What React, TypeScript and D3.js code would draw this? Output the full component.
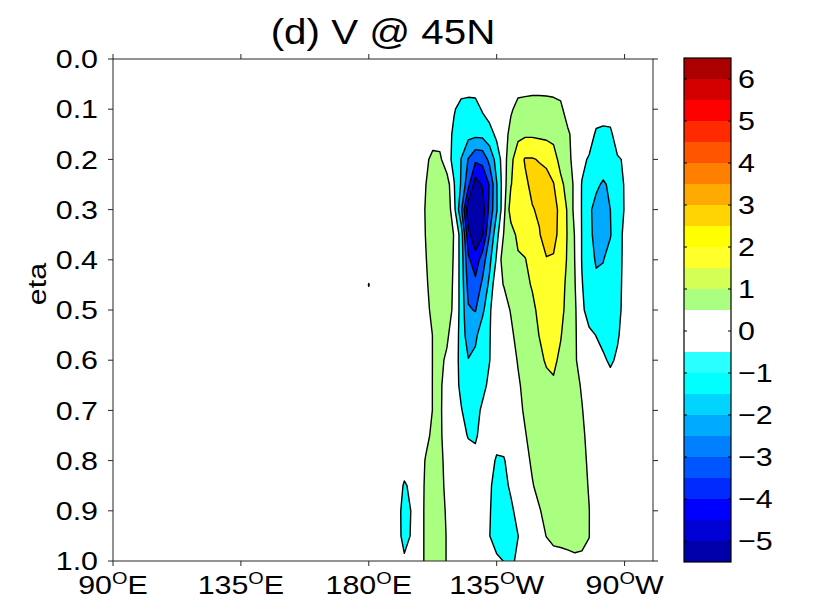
import React from "react";
import * as d3 from "d3";

// ---------- data ----------
const titleText = "(d) V @ 45N";
const yAxisLabel = "eta";
const etaTicks = [0, 0.1, 0.2, 0.3, 0.4, 0.5, 0.6, 0.7, 0.8, 0.9, 1.0];
const lonTicks = [90, 135, 180, 225, 270];
const lonTickNumbers = ["90", "135", "180", "135", "90"];
const lonTickHemis = ["E", "E", "E", "W", "W"];
const contourLevels = [-5.5, -4.5, -3.5, -2.5, -1.5, -0.5, 0.5, 1.5, 2.5, 3.5, 4.5, 5.5];
const colorbarMin = -5.5;
const colorbarStep = 0.5;
// bottom (-5.5..-5.0) to top (6.0..6.5)
const colorbarColors = [
  "#0000aa", "#0000d4", "#0000ff", "#002aff", "#0055ff", "#0080ff",
  "#00aaff", "#00d4ff", "#00ffff", "#2affff", "#ffffff", "#ffffff",
  "#aaff80", "#d4ff55", "#ffff2a", "#ffff00", "#ffd400", "#ffaa00",
  "#ff8000", "#ff5500", "#ff2a00", "#ff0000", "#d40000", "#aa0000",
];
const colorbarTicks = [-5, -4, -3, -2, -1, 0, 1, 2, 3, 4, 5, 6];

// model grid: longitudes 90E..280E every 2.5 deg; eta 0..1 every 0.05
const gridLonStart = 90;
const gridLonStep = 2.5;
const gridEtaStep = 0.05;
// columns 90E..177.5E hold no signal (all 0)
const quietColumns = 36;
// V values (m/s) for longitudes 180E, 182.5E, ..., 280E (41 columns), one row per eta level
const vAtEta = [
  /*0.00*/[0,0,0,0,0,0,0,0,0,0,0,0,0,0,0,0,0,0,0,0,0,0,0,0,0,0,0,0,0,0,0,0,0,0,0,0,0,0,0,0,0],
  /*0.05*/[0,0,0,0,0,0,0,0,0,0,0,0,0,0,0,0,0,0,0,0,0,0,0,0,0,0,0,0,0,0,0,0,0,0,0,0,0,0,0,0,0],
  /*0.10*/[0,0,0,0,0,0,0,0,0,0,0,0,-0.41,-0.85,-0.95,-0.9,-0.39,0,0,0,0.33,0.9,1.0,1.1,1.1,1.05,0.95,0.75,-0.03,0,0,0,0,0,0,0,0,0,0,0,0],
  /*0.15*/[0,0,0,0,0,0,0,0,0,0.05,0.05,0,-0.74,-1.05,-1.2,-1.25,-1.2,-0.9,-0.26,-0.15,0.95,1.25,1.35,1.35,1.3,1.25,1.15,0.95,0.7,0.05,0,-0.03,-0.65,-0.75,-0.7,0,0,0,0,0,0],
  /*0.20*/[0,0,0,0,0,0,0,0,0.3,0.75,0.7,-0.13,-0.77,-1.52,-2.55,-3.3,-3.2,-2.2,-1.13,0.05,1.24,2.1,2.57,2.57,2.44,2.3,2.0,1.09,0.75,0.19,-0.29,-0.6,-0.8,-0.85,-0.8,-0.6,-0.41,0,0,0,0],
  /*0.25*/[0,0,0,0,0,0,0,0.1,0.48,0.9,1.0,1.0,-0.45,-1.6,-3.2,-5.0,-4.4,-3.43,-1.55,0.05,1.45,2.04,2.35,2.68,2.9,2.85,2.54,1.8,1.05,0.3,-0.55,-0.9,-1.3,-1.65,-1.3,-0.85,-0.45,0,0,0,0],
  /*0.30*/[0,0,0,0,0,0,0,0.1,0.55,0.95,1.1,1.2,-0.2,-2.3,-5.2,-5.4,-5.0,-3.2,-1.6,0.2,1.98,2.2,2.35,2.45,2.61,2.9,2.8,2.26,1.37,0.18,-0.55,-1.3,-1.85,-2.0,-1.5,-1.0,-0.45,0,0,0,0],
  /*0.35*/[0,0,0,0,0,0,0,0.05,0.52,0.9,1.1,1.15,0.45,-0.93,-4.2,-5.2,-4.6,-2.5,-0.8,0.55,1.05,1.75,2.0,2.2,2.45,2.85,2.8,2.175,1.42,0.44,-0.55,-1.25,-1.8,-1.95,-1.55,-0.9,-0.3,0,0,0,0],
  /*0.40*/[0,0,0,0,0,0,0,0.05,0.45,0.9,1.05,1.1,0.4,-0.9,-3.3,-4.1,-3.0,-1.75,-0.35,1.07,1.2,1.35,1.45,1.9,2.25,2.45,2.4,2.05,1.38,0.48,-0.55,-1.1,-1.6,-1.52,-1.2,-0.85,-0.3,0,0,0,0],
  /*0.45*/[0.53,0,0,0,0,0,0,0.05,0.35,0.85,1.0,1.0,0.35,-0.88,-2.82,-3.2,-2.31,-1.26,0.32,0.52,0.95,1.15,1.35,1.55,1.9,2.1,2.1,1.95,1.2,0.55,-0.45,-1.0,-1.3,-1.35,-1.2,-0.9,-0.2,0,0,0,0],
  /*0.50*/[0,0,0,0,0,0,0,0,0.2,0.75,0.95,0.95,0.3,-0.86,-2.4,-2.55,-1.75,-0.6,0,0.2,0.55,0.9,1.1,1.35,1.65,1.9,2.0,1.8,1.15,0.65,-0.3,-0.92,-1.2,-1.3,-1.2,-0.85,-0.15,0,0,0,0],
  /*0.55*/[0,0,0,0,0,0,0,0,0.1,0.52,0.8,0.65,0,-0.8,-2.1,-1.75,-0.83,-0.55,0,0.1,0.35,0.75,1.0,1.2,1.52,1.75,1.85,1.55,1.1,0.65,-0.1,-0.3,-0.52,-0.9,-1.0,-0.65,0,0,0,0,0],
  /*0.60*/[0,0,0,0,0,0,0,0,0.1,0.52,0.7,0.35,-0.1,-0.78,-1.45,-1.2,-0.85,-0.52,0,0.05,0.2,0.55,0.85,1.05,1.3,1.6,1.65,1.35,1.0,0.65,0,-0.1,-0.2,-0.3,-0.7,-0.3,0,0,0,0,0],
  /*0.65*/[0,0,0,0,0,0,0,0,0.15,0.52,0.62,0.2,-0.15,-0.68,-1.05,-1.0,-0.75,-0.3,0,0,0.1,0.4,0.7,0.95,1.1,1.25,1.4,1.3,1.05,0.8,0.4,0.05,0,0,0,0,0,0,0,0,0],
  /*0.70*/[0,0,0,0,0,0,0,0,0.15,0.52,0.6,0.2,-0.1,-0.45,-0.85,-0.8,-0.35,0,0,0,0.1,0.3,0.6,0.85,1.0,1.1,1.15,1.1,1.0,0.85,0.55,0.1,0,0,0,0,0,0,0,0,0],
  /*0.75*/[0,0,0,0,0,0,0,0,0.3,0.65,0.62,0.2,0,-0.2,-0.56,-0.62,-0.2,0,0,0.05,0.15,0.3,0.45,0.75,0.95,1.05,1.1,1.1,1.05,0.95,0.7,0.2,0,0,0,0,0,0,0,0,0],
  /*0.80*/[0,0,0,0,0,0,0,0.1,0.55,0.75,0.7,0.25,0,0,-0.1,-0.25,-0.1,-0.05,-0.65,-0.6,0,0.1,0.3,0.6,0.8,0.95,1.05,1.05,1.0,0.9,0.75,0.35,0,0,0,0,0,0,0,0,0],
  /*0.85*/[0,0,0,0,0,-0.62,-0.3,0.15,0.6,0.8,0.75,0.3,0,0,0,0,0,-0.35,-0.9,-0.85,-0.3,0,0.15,0.45,0.7,0.85,0.95,1.0,1.0,0.9,0.75,0.45,0,0,0,0,0,0,0,0,0],
  /*0.90*/[0,0,0,0,0,-1.0,-0.45,0.15,0.62,0.85,0.8,0.4,0,0,0,0,0,-0.42,-1.0,-1.1,-0.75,-0.1,0,0.15,0.45,0.7,0.85,0.95,0.95,0.9,0.75,0.52,0.05,0,0,0,0,0,0,0,0],
  /*0.95*/[0,0,0,0,0,-0.95,-0.4,0.15,0.62,0.85,0.85,0.45,0,0,0,0,0,-0.48,-1.0,-1.1,-0.95,-0.52,-0.1,0.05,0.2,0.52,0.7,0.8,0.85,0.85,0.75,0.52,0,0,0,0,0,0,0,0,0],
  /*1.00*/[0,0,0,0,0,-0.3,0,0.15,0.62,0.85,0.85,0.45,0,0,0,0,0,0,-0.3,-0.52,-0.7,-0.3,0,0,0,0.05,0.2,0.15,0.22,0.33,0.33,0.3,0,0,0,0,0,0,0,0,0],
];

// ---------- layout ----------
const W = 831;
const H = 609;
const plot = { left: 113, right: 653, top: 59, bottom: 561 };
const cbar = { left: 684, right: 731, top: 58, bottom: 562 };
const FONT = "'Liberation Sans', Arial, Helvetica, sans-serif";
const SX = 1.17; // horizontal stretch of the reference's lettering

export default function App() {
  const x = d3.scaleLinear().domain([90, 280]).range([plot.left, plot.right]);
  const y = d3.scaleLinear().domain([0, 1]).range([plot.top, plot.bottom]);

  const nx = quietColumns + vAtEta[0].length;
  const ny = vAtEta.length;
  const values: number[] = [];
  for (let j = 0; j < ny; j++) {
    for (let i = 0; i < nx; i++) {
      values.push(i < quietColumns ? 0 : vAtEta[j][i - quietColumns]);
    }
  }
  const contours = d3.contours().size([nx, ny]).thresholds(contourLevels)(values);

  const proj = d3.geoTransform({
    point(this: any, gx: number, gy: number) {
      this.stream.point(
        x(gridLonStart + (gx - 0.5) * gridLonStep),
        y((gy - 0.5) * gridEtaStep)
      );
    },
  });
  const path = d3.geoPath(proj);

  const colorFor = (v: number) => {
    const idx = Math.floor((v - colorbarMin) / colorbarStep + 1e-6);
    return colorbarColors[Math.max(0, Math.min(colorbarColors.length - 1, idx))];
  };

  const cb = d3
    .scaleLinear()
    .domain([colorbarMin, colorbarMin + colorbarStep * colorbarColors.length])
    .range([cbar.bottom, cbar.top]);

  const tickFont = 26;
  const axisColor = "#262626";

  return (
    <svg width={W} height={H} style={{ display: "block", position: "absolute", left: 0, top: 0 }} fontFamily={FONT}>
      <rect x={0} y={0} width={W} height={H} fill="#ffffff" />
      <defs>
        <clipPath id="plotClip">
          <rect x={plot.left} y={plot.top} width={plot.right - plot.left} height={plot.bottom - plot.top} />
        </clipPath>
      </defs>

      {/* filled contours */}
      <g clipPath="url(#plotClip)">
        {contours.map((c, i) => (
          <path key={"f" + i} d={path(c as any) || ""} fill={colorFor(c.value)} stroke="none" />
        ))}
        {contours.map((c, i) => (
          <path key={"s" + i} d={path(c as any) || ""} fill="none" stroke="#000" strokeWidth={1.4} strokeLinejoin="round" />
        ))}
      </g>

      {/* frame */}
      <rect x={plot.left} y={plot.top} width={plot.right - plot.left} height={plot.bottom - plot.top} fill="none" stroke={axisColor} strokeWidth={1} />

      {/* y ticks */}
      {etaTicks.map((t) => (
        <g key={"yt" + t}>
          <line x1={plot.left - 5} x2={plot.left} y1={y(t)} y2={y(t)} stroke={axisColor} />
          <line x1={plot.right} x2={plot.right + 5} y1={y(t)} y2={y(t)} stroke={axisColor} />
          <text transform={`translate(${plot.left - 15},${y(t)}) scale(${SX},1)`} dy="0.35em" textAnchor="end" fontSize={tickFont} fill="#000">
            {t.toFixed(1)}
          </text>
        </g>
      ))}

      {/* x ticks */}
      {lonTicks.map((t, i) => (
        <g key={"xt" + t + i}>
          <line x1={x(t)} x2={x(t)} y1={plot.bottom} y2={plot.bottom + 5} stroke={axisColor} />
          <line x1={x(t)} x2={x(t)} y1={plot.top - 5} y2={plot.top} stroke={axisColor} />
          <text transform={`translate(${x(t)},${plot.bottom + 33}) scale(${SX},1)`} textAnchor="middle" fontSize={tickFont} fill="#000">
            <tspan>{lonTickNumbers[i]}</tspan>
            <tspan fontSize={17} dy={-10}>O</tspan>
            <tspan dy={10}>{lonTickHemis[i]}</tspan>
          </text>
        </g>
      ))}

      {/* axis label */}
      <text transform={`translate(46,284) rotate(-90) scale(${SX},1)`} textAnchor="middle" fontSize={tickFont} fill="#000">
        {yAxisLabel}
      </text>

      {/* title */}
      <text transform={`translate(${(plot.left + plot.right) / 2},44) scale(1.12,1)`} textAnchor="middle" fontSize={36} fill="#000">
        {titleText}
      </text>

      {/* colorbar */}
      <g>
        {colorbarColors.map((c, i) => (
          <rect
            key={"cb" + i}
            x={cbar.left}
            width={cbar.right - cbar.left}
            y={cb(colorbarMin + colorbarStep * (i + 1))}
            height={cb(colorbarMin + colorbarStep * i) - cb(colorbarMin + colorbarStep * (i + 1))}
            fill={c}
            stroke="none"
          />
        ))}
        <rect x={cbar.left} y={cbar.top} width={cbar.right - cbar.left} height={cbar.bottom - cbar.top} fill="none" stroke="#000" strokeWidth={1.2} />
        {colorbarTicks.map((t) => (
          <g key={"cbt" + t}>
            <line x1={cbar.left} x2={cbar.left + 3} y1={cb(t)} y2={cb(t)} stroke="#000" />
            <line x1={cbar.right - 3} x2={cbar.right} y1={cb(t)} y2={cb(t)} stroke="#000" />
            <text transform={`translate(${cbar.right + 7},${cb(t)}) scale(${SX},1)`} dy="0.35em" fontSize={tickFont} fill="#000">
              {t < 0 ? "\u2212" + Math.abs(t) : String(t)}
            </text>
          </g>
        ))}
      </g>
    </svg>
  );
}
